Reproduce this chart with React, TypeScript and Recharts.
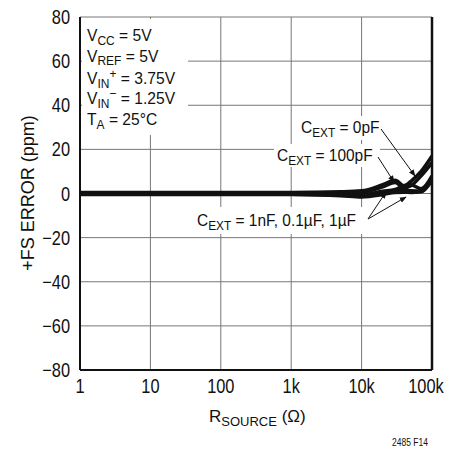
import React from 'react';
import {
  LineChart,
  Line,
  XAxis,
  YAxis,
  CartesianGrid,
  ReferenceLine,
} from 'recharts';

// source resistance (ohms)
const rSource = [1, 10, 100, 1000, 5000, 10000, 20000, 30000, 40000, 50000, 70000, 100000];

// +FS error (ppm) per external capacitance
const err0pF = [0.4, 0.4, 0.4, 0.5, 0.8, 1.2, 4, 6, 3.5, 5.5, 10, 17];
const err100pF = [0.2, 0.2, 0.2, 0.3, 0.4, 0.6, 3, 5, 2.5, 3.5, 8, 14];
const err1nF = [0, 0, 0, 0, -0.2, -0.5, 1, 1.8, 3.5, 4, 2.2, 8];
const err01uF = [-0.2, -0.2, -0.2, -0.3, -0.6, -1, 0, 1, 1.5, 1.2, 1, 7];
const err1uF = [-0.4, -0.4, -0.4, -0.5, -1, -1.6, -0.5, 0.5, 0.6, 0.5, 0.8, 6];

const xTicks = [1, 10, 100, 1000, 10000, 100000];
const xTickLabels = ['1', '10', '100', '1k', '10k', '100k'];
const yTicks = [-80, -60, -40, -20, 0, 20, 40, 60, 80];

const chartData = rSource.map((r, i) => ({
  r,
  c0: err0pF[i],
  c100: err100pF[i],
  c1n: err1nF[i],
  c01u: err01uF[i],
  c1u: err1uF[i],
}));

const FONT = "'Liberation Sans', Arial, sans-serif";
const series = ['c0', 'c100', 'c1n', 'c01u', 'c1u'];

const fmtY = (v: number) => (v < 0 ? `\u2212${Math.abs(v)}` : `${v}`);
const fmtX = (v: number) => xTickLabels[xTicks.indexOf(v)] ?? `${v}`;

// narrow text: horizontally squeezed to look like a condensed face
const NText = ({ x, y, size, sx = 1, anchor = 'start', rotate = 0, children }: any) => (
  <g transform={`translate(${x} ${y}) rotate(${rotate}) scale(${sx} 1)`}>
    <text x={0} y={0} fontSize={size} textAnchor={anchor} fill="#111" fontFamily={FONT}>
      {children}
    </text>
  </g>
);

const YTick = ({ x, y, payload }: any) => (
  <NText x={x} y={y + 7} size={20} sx={0.82} anchor="end">
    {fmtY(payload.value)}
  </NText>
);

const XTick = ({ x, y, payload }: any) => (
  <NText x={x} y={y + 14} size={20} sx={0.82} anchor="middle">
    {fmtX(payload.value)}
  </NText>
);

const Sub = ({ v, size = 13, d = 4 }: { v: string; size?: number; d?: number }) => (
  <tspan fontSize={size} dy={d}>{v}</tspan>
);

const Cext = ({ x, y, rest }: { x: number; y: number; rest: string }) => (
  <NText x={x} y={y} size={17} sx={0.91}>
    C<Sub v="EXT" />
    <tspan dy={-4}>{rest}</tspan>
  </NText>
);

const Overlay = () => (
  <svg width={450} height={450} style={{ position: 'absolute', left: 0, top: 0 }}>
    <defs>
      <marker id="ah" viewBox="0 0 10 10" refX="9" refY="5" markerWidth="7" markerHeight="7" orient="auto-start-reverse">
        <path d="M0,1 L10,5 L0,9 z" fill="#111" />
      </marker>
    </defs>

    {/* conditions box */}
    <rect x={82} y={19} width={106} height={116} fill="#fff" />
    <NText x={87} y={41} size={17} sx={0.92}>
      V<Sub v="CC" />
      <tspan dy={-4}> = 5V</tspan>
    </NText>
    <NText x={87} y={62} size={17} sx={0.92}>
      V<Sub v="REF" d={3} />
      <tspan dy={-3}> = 5V</tspan>
    </NText>
    <NText x={87} y={84} size={17} sx={0.92}>
      V<Sub v="IN" />
      <tspan fontSize={13} dy={-10}>+</tspan>
      <tspan dy={6}> = 3.75V</tspan>
    </NText>
    <NText x={87} y={104} size={17} sx={0.92}>
      V<Sub v="IN" />
      <tspan fontSize={13} dy={-10}>{'\u2212'}</tspan>
      <tspan dy={6}> = 1.25V</tspan>
    </NText>
    <NText x={87} y={125} size={17} sx={0.92}>
      T<Sub v="A" />
      <tspan dy={-4}> = 25°C</tspan>
    </NText>

    {/* curve labels */}
    <rect x={298} y={116} width={84} height={24} fill="#fff" />
    <Cext x={301} y={133} rest=" = 0pF" />
    <rect x={274} y={144} width={106} height={23} fill="#fff" />
    <Cext x={277} y={161} rest=" = 100pF" />
    <rect x={194} y={207} width={175} height={27} fill="#fff" />
    <Cext x={197} y={226} rest=" = 1nF, 0.1µF, 1µF" />

    <g stroke="#111" strokeWidth={1} markerEnd="url(#ah)">
      <line x1={381} y1={129} x2={415} y2={176} />
      <line x1={378} y1={157} x2={394} y2={182} />
      <line x1={368} y1={219} x2={386} y2={192} />
      <line x1={368} y1={219} x2={406} y2={197} />
    </g>

    {/* axis titles */}
    <NText x={34} y={193} size={18} anchor="middle" rotate={-90}>
      +FS ERROR (ppm)
    </NText>
    <NText x={209} y={422} size={17}>
      R<Sub v="SOURCE" />
      <tspan dy={-4}> (Ω)</tspan>
    </NText>
    <NText x={392} y={446} size={10} sx={0.85}>
      2485 F14
    </NText>
  </svg>
);

export default function App() {
  return (
    <div style={{ position: 'absolute', left: 0, top: 0, width: 450, height: 450, background: '#fff' }}>
      <LineChart
        width={450}
        height={450}
        data={chartData}
        margin={{ top: 17, right: 18, left: 0, bottom: 0 }}
      >
        <CartesianGrid stroke="#777" strokeWidth={1} />
        <XAxis
          dataKey="r"
          type="number"
          scale="log"
          domain={[1, 100000]}
          ticks={xTicks}
          height={80}
          tickLine={false}
          tickSize={0}
          tickMargin={9}
          axisLine={{ stroke: '#111', strokeWidth: 2 }}
          tick={<XTick />}
          allowDataOverflow
        />
        <YAxis
          type="number"
          domain={[-80, 80]}
          ticks={yTicks}
          width={80}
          tickLine={false}
          tickSize={0}
          tickMargin={10}
          axisLine={{ stroke: '#111', strokeWidth: 2 }}
          tick={<YTick />}
        />
        <ReferenceLine x={100000} stroke="#111" strokeWidth={2.5} />
        {series.map((key) => (
          <Line
            key={key}
            dataKey={key}
            type="monotone"
            stroke="#111"
            strokeWidth={3.5}
            dot={false}
            isAnimationActive={false}
          />
        ))}
      </LineChart>
      <Overlay />
    </div>
  );
}
